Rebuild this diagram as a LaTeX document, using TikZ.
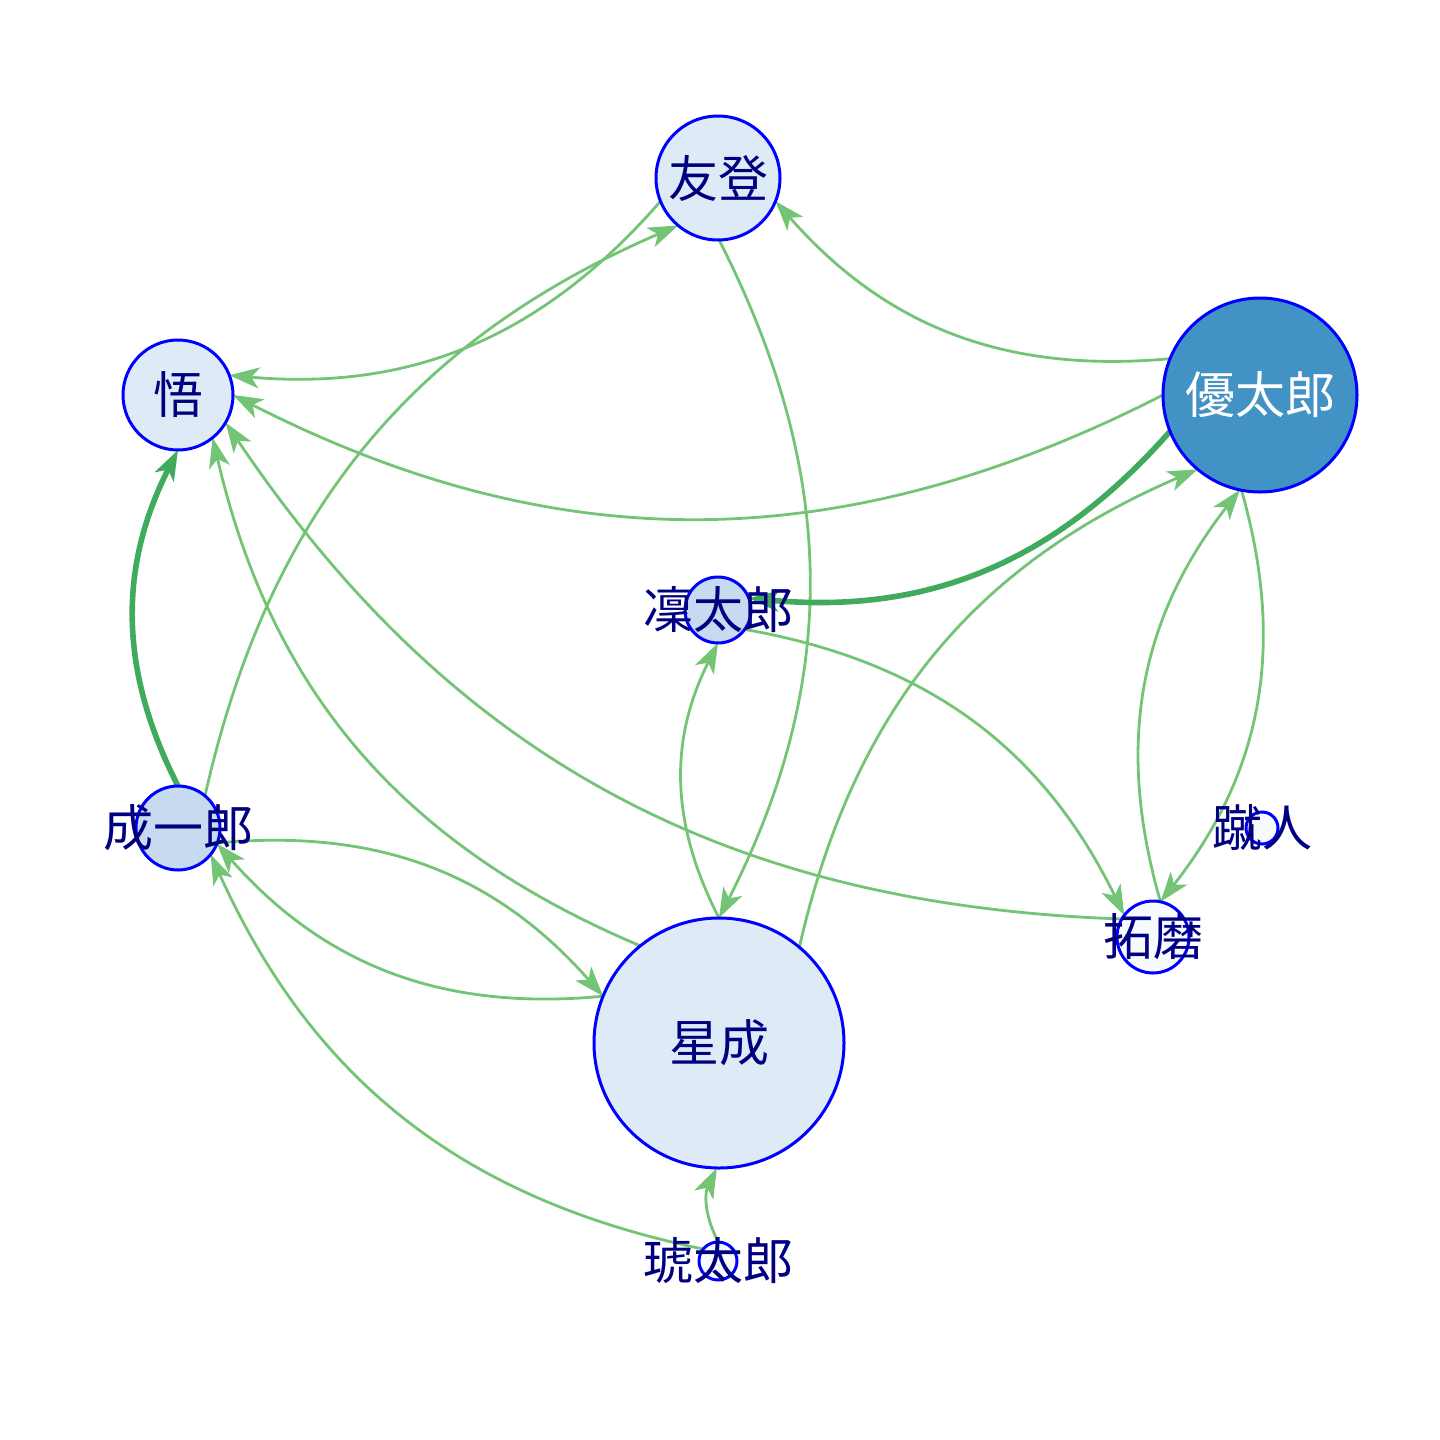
\documentclass[tikz,border=0pt]{standalone}
\usepackage{fontspec}
\newfontfamily\cjk{Noto Sans CJK JP}
\usetikzlibrary{arrows.meta,calc}
\definecolor{fillA}{HTML}{DEEBF7}
\definecolor{fillB}{HTML}{C6DBEF}
\definecolor{fillC}{HTML}{4292C6}
\definecolor{fillD}{HTML}{F7FBFF}
\definecolor{edgeA}{HTML}{74C476}
\definecolor{edgeB}{HTML}{41AB5D}
\definecolor{labelc}{HTML}{000080}
\pgfdeclarelayer{edges}
\pgfsetlayers{edges,main}
\tikzset{
  vtx/.style={circle,draw=blue,line width=1.5pt,inner sep=0pt,outer sep=0pt},
  lbl/.style={text=labelc,font=\cjk\fontsize{25}{30}\selectfont,inner sep=0pt},
  % clip on the straight line between centres, then bend
  link/.style={draw=edgeA,line width=1.4pt,-{Stealth[length=15pt,width=10.5pt,inset=4pt]},
    to path={\pgfextra{\edef\fromnode{\tikztostart}\edef\tonode{\tikztotarget}}
      let \p1=(\fromnode.center), \p2=(\tonode.center),
      \n1={atan2(\y1-\y2,\x2-\x1)}, \n2={\n1+180} in
      (\fromnode.\n1) to[bend right=27] (\tonode.\n2)}},
  heavy/.style={link,draw=edgeB,line width=2.8pt},
}
\begin{document}
\begin{tikzpicture}[x=0.5pt,y=0.5pt,yscale=-1,xscale=1]
		\useasboundingbox (0,0) rectangle (1440,1440);

		\node [vtx,fill=fillA,minimum size=62pt,label={[lbl]center:友登}] (tomoto) at (718,178) {};
		\node [vtx,fill=fillA,minimum size=55pt,label={[lbl]center:悟}] (satoru) at (178,395) {};
		\node [vtx,fill=fillC,minimum size=97pt,label={[lbl,text=white]center:優太郎}] (yutaro) at (1260,395) {};
		\node [vtx,fill=fillB,minimum size=33pt,label={[lbl]center:凜太郎}] (rintaro) at (718,610) {};
		\node [vtx,fill=fillB,minimum size=42pt,label={[lbl]center:成一郎}] (seiichiro) at (178,828) {};
		\node [vtx,fill=fillD,minimum size=16pt,label={[lbl]center:蹴人}] (shuto) at (1262,828) {};
		\node [vtx,fill=fillD,minimum size=36pt,label={[lbl]center:拓磨}] (takuma) at (1153,937) {};
		\node [vtx,fill=fillA,minimum size=125pt,label={[lbl]center:星成}] (sei) at (719,1043) {};
		\node [vtx,fill=fillD,minimum size=19pt,label={[lbl]center:琥太郎}] (kotaro) at (718,1261) {};

		\begin{pgfonlayer}{edges}
		\draw [link] (tomoto) to (satoru);
		\draw [link] (seiichiro) to (tomoto);
		\draw [link] (tomoto) to (sei);
		\draw [link] (yutaro) to (tomoto);
		\draw [link] (yutaro) to (satoru);
		\draw [heavy] (yutaro) to (rintaro);
		\draw [link] (sei) to (yutaro);
		\draw [link] (takuma) to (yutaro);
		\draw [link] (yutaro) to (takuma);
		\draw [link] (rintaro) to (takuma);
		\draw [link] (takuma) to (satoru);
		\draw [link] (sei) to (rintaro);
		\draw [heavy] (seiichiro) to (satoru);
		\draw [link] (sei) to (satoru);
		\draw [link] (sei) to (seiichiro);
		\draw [link] (seiichiro) to (sei);
		\draw [link] (kotaro) to (seiichiro);
		\draw [link] (kotaro) to (sei);
		\end{pgfonlayer}
	\end{tikzpicture}
\end{document}
